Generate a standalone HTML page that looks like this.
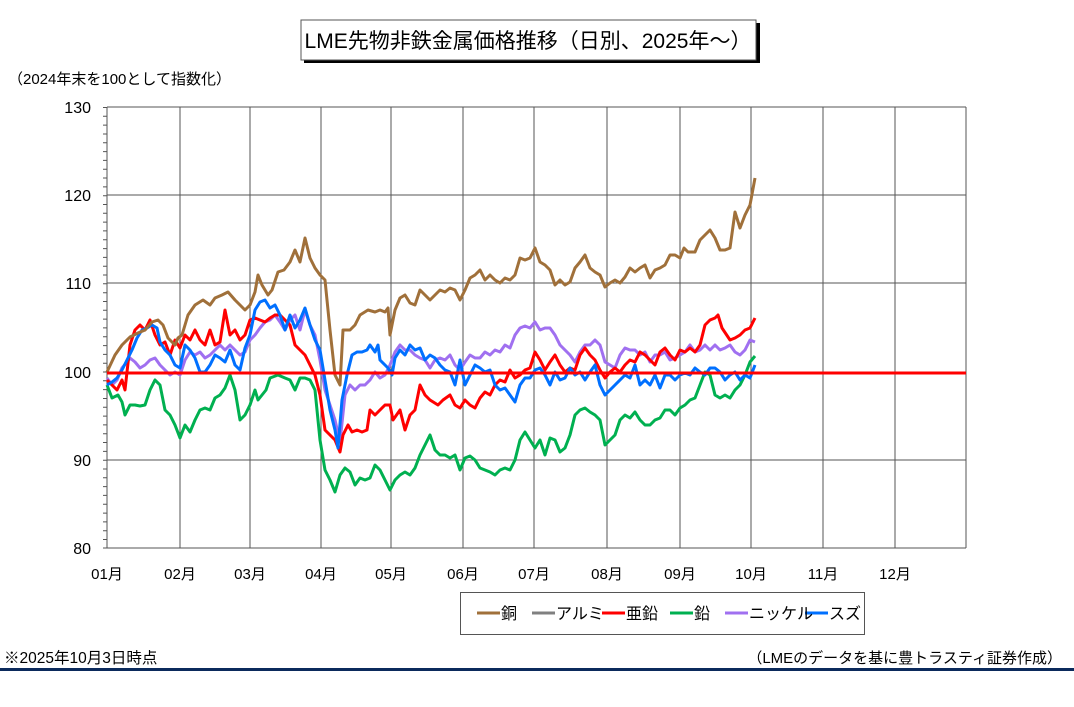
<!DOCTYPE html>
<html><head><meta charset="utf-8"><style>
html,body{margin:0;padding:0;background:#fff;}
svg{display:block;font-family:"Liberation Sans","Noto Sans CJK JP",sans-serif;}
</style></head><body>
<svg width="1074" height="707" viewBox="0 0 1074 707" xmlns="http://www.w3.org/2000/svg">
<rect width="1074" height="707" fill="#fff"/>
<rect x="304" y="23" width="456" height="40" fill="#000"/>
<rect x="301" y="20" width="455" height="40" fill="#fff" stroke="#555" stroke-width="1"/>
<text x="528" y="48" font-size="21" text-anchor="middle" fill="#000">LME先物非鉄金属価格推移（日別、2025年～）</text>
<text x="8" y="84" font-size="15" fill="#000">（2024年末を100として指数化）</text>
<g stroke="#555" stroke-width="1">
<line x1="107" y1="107" x2="966" y2="107"/>
<line x1="107" y1="195" x2="966" y2="195"/>
<line x1="107" y1="283" x2="966" y2="283"/>
<line x1="107" y1="460" x2="966" y2="460"/>
<line x1="107" y1="548" x2="966" y2="548"/>
<line x1="180" y1="107" x2="180" y2="548"/>
<line x1="250" y1="107" x2="250" y2="548"/>
<line x1="321" y1="107" x2="321" y2="548"/>
<line x1="391" y1="107" x2="391" y2="548"/>
<line x1="463" y1="107" x2="463" y2="548"/>
<line x1="534" y1="107" x2="534" y2="548"/>
<line x1="607" y1="107" x2="607" y2="548"/>
<line x1="680" y1="107" x2="680" y2="548"/>
<line x1="751" y1="107" x2="751" y2="548"/>
<line x1="823" y1="107" x2="823" y2="548"/>
<line x1="895" y1="107" x2="895" y2="548"/>
<line x1="966" y1="107" x2="966" y2="548"/>
<line x1="107" y1="107" x2="107" y2="548"/>
</g>
<g stroke="#555" stroke-width="1">
<path d="M103 107.5h4M103 116.3h4M103 125.1h4M103 134h4M103 142.8h4M103 151.6h4M103 160.4h4M103 169.2h4M103 178h4M103 186.9h4M103 195.7h4M103 204.5h4M103 213.3h4M103 222.1h4M103 230.9h4M103 239.8h4M103 248.6h4M103 257.4h4M103 266.2h4M103 275h4M103 283.8h4M103 292.7h4M103 301.5h4M103 310.3h4M103 319.1h4M103 327.9h4M103 336.7h4M103 345.6h4M103 354.4h4M103 363.2h4M103 372h4M103 380.8h4M103 389.6h4M103 398.5h4M103 407.3h4M103 416.1h4M103 424.9h4M103 433.7h4M103 442.5h4M103 451.4h4M103 460.2h4M103 469h4M103 477.8h4M103 486.6h4M103 495.4h4M103 504.3h4M103 513.1h4M103 521.9h4M103 530.7h4M103 539.5h4M103 548h4"/>
</g>
<g font-size="16" fill="#000" text-anchor="end">
<text x="91" y="113">130</text><text x="91" y="201">120</text><text x="91" y="289">110</text>
<text x="91" y="378">100</text><text x="91" y="466">90</text><text x="91" y="554">80</text>
</g>
<g font-size="15" fill="#000" text-anchor="middle">
<text x="107" y="579">01月</text><text x="180" y="579">02月</text><text x="250" y="579">03月</text>
<text x="321" y="579">04月</text><text x="391" y="579">05月</text><text x="463" y="579">06月</text>
<text x="534" y="579">07月</text><text x="607" y="579">08月</text><text x="680" y="579">09月</text>
<text x="751" y="579">10月</text><text x="823" y="579">11月</text><text x="895" y="579">12月</text>
</g>
<g fill="none" stroke-width="3" stroke-linejoin="round">
<polyline stroke="#00b050" points="107,385 112,398 118,395 122,402 125,415 130,405 135,405 140,406 145,405 150,390 155,380 160,385 165,410 170,415 175,425 180,438 185,425 190,432 195,420 200,410 205,408 210,410 215,398 220,395 225,388 230,375 235,390 240,420 245,415 250,405 255,390 258,400 262,395 266,390 270,378 278,375 285,378 290,380 295,390 300,378 305,378 310,380 315,390 320,440 325,470 330,480 335,492 340,475 345,468 350,472 355,485 360,478 365,480 370,478 375,465 380,470 385,480 390,490 395,480 400,475 405,472 410,475 415,468 420,455 425,445 430,435 435,450 440,455 445,455 450,458 455,455 460,470 465,458 470,456 475,460 480,468 485,470 490,472 495,475 500,470 505,468 510,470 515,460 520,440 525,432 530,440 535,448 540,440 545,455 550,438 555,440 560,452 565,448 570,435 575,415 580,410 585,408 590,412 595,415 600,420 605,445 610,440 615,435 620,420 625,415 630,418 635,412 640,420 645,425 650,425 655,420 660,418 665,410 670,410 675,415 680,408 685,405 690,400 695,398 700,385 705,372 710,375 715,395 720,398 725,395 730,398 735,390 740,385 745,375 750,362 755,356"/>
<polyline stroke="#a070f0" points="107,378 112,385 117,380 122,368 127,362 130,358 135,362 140,368 145,365 150,360 155,358 160,365 165,370 170,375 175,372 180,375 185,360 190,352 195,355 200,352 205,358 210,355 215,350 220,345 225,350 230,345 235,350 240,355 245,352 250,340 255,335 260,328 265,322 270,320 275,315 280,322 285,330 290,320 295,315 300,330 305,310 310,325 315,335 320,360 325,390 330,405 335,420 340,442 345,395 350,385 355,390 360,385 365,385 370,380 375,372 380,378 385,375 390,365 395,352 400,345 405,350 410,350 415,355 420,358 425,360 430,368 435,360 440,358 445,360 450,355 455,365 460,370 465,362 470,355 475,358 480,358 485,352 490,355 495,350 500,352 505,345 510,348 515,335 520,328 525,326 530,328 535,322 540,330 545,328 550,328 555,335 560,345 565,350 570,355 575,362 580,352 585,345 590,345 595,340 600,345 605,362 610,365 615,368 620,355 625,348 630,350 635,350 640,355 645,352 650,362 655,355 660,355 665,352 670,360 675,358 680,355 685,352 690,345 695,352 700,350 705,345 710,350 715,345 720,350 725,348 730,345 735,352 740,355 745,350 750,340 755,342"/>
<polyline stroke="#ff0000" points="107,380 112,385 117,390 122,380 125,390 130,345 135,330 140,325 145,330 150,320 155,335 160,345 165,342 170,355 175,340 180,348 185,335 190,340 195,330 200,340 205,345 210,330 215,345 220,342 225,310 230,335 235,330 240,340 245,335 250,320 255,318 260,320 265,322 270,318 275,315 280,315 285,320 290,325 295,345 300,350 305,355 310,365 315,375 320,395 325,430 330,435 335,440 340,452 343,435 348,425 352,432 357,430 362,432 367,430 370,410 375,415 380,410 385,405 390,405 393,420 400,410 405,430 410,415 415,410 420,385 425,395 430,400 438,405 443,400 450,395 455,405 460,408 465,400 470,405 475,408 480,398 485,392 490,395 495,385 500,380 505,382 510,370 515,378 520,375 525,370 530,368 535,352 540,360 545,370 550,362 555,355 560,365 565,372 570,368 575,370 580,355 585,348 590,355 595,360 600,370 605,378 610,372 615,368 620,372 625,365 630,360 635,362 640,352 645,355 650,360 655,365 660,352 665,348 670,355 675,360 680,350 685,352 690,348 695,352 700,345 705,325 710,320 715,318 718,315 722,328 730,340 735,338 740,335 745,330 750,328 755,318"/>
<polyline stroke="#0070ff" points="107,385 112,382 117,378 122,370 127,360 132,350 137,338 142,330 147,328 152,325 157,328 160,342 165,350 170,355 175,365 180,368 185,345 190,350 195,358 200,372 205,372 210,365 215,355 220,358 225,362 230,350 235,365 240,370 245,348 250,335 255,310 260,302 265,300 270,308 275,305 280,315 285,330 290,315 295,328 300,320 305,308 310,325 315,340 320,350 325,380 330,410 335,430 338,448 342,400 347,375 352,355 357,352 362,352 367,350 370,345 375,352 378,345 380,360 385,365 388,368 392,375 395,358 400,350 405,355 410,345 415,350 420,348 425,360 430,355 435,358 440,365 445,370 450,372 455,385 460,360 465,385 470,375 475,365 480,368 485,372 490,370 495,385 500,390 505,388 510,395 515,402 520,385 525,378 530,378 535,370 540,368 545,375 550,385 555,372 560,380 565,378 570,368 575,375 580,372 585,380 590,372 595,365 600,385 605,395 610,390 615,385 625,375 630,378 635,365 640,385 645,380 650,385 655,375 660,388 665,375 670,375 675,380 680,375 685,373 690,375 695,368 700,372 705,375 710,368 715,368 720,372 725,380 730,375 735,372 740,380 745,375 750,378 755,365"/>
<polyline stroke="#a0703a" points="107,372 115,355 122,345 130,337 138,333 145,330 152,322 158,320 163,325 168,338 175,345 178,338 182,335 188,315 195,305 203,300 210,305 215,298 222,295 228,292 235,300 240,305 245,310 250,305 255,292 258,275 262,285 268,295 272,290 278,272 284,270 290,262 295,250 300,262 305,238 310,258 315,268 320,275 325,280 330,330 335,375 340,385 343,330 350,330 355,325 360,315 368,310 375,312 380,310 385,312 388,308 390,335 395,310 400,298 405,295 410,303 415,305 420,290 425,295 430,300 440,290 445,292 450,288 455,290 460,300 465,290 470,278 475,275 480,270 485,280 490,275 495,280 500,283 505,278 510,280 515,275 520,258 525,260 530,258 535,248 540,262 545,265 550,270 555,285 560,280 565,285 570,282 575,268 580,262 585,255 590,268 595,272 600,275 605,287 610,283 615,280 620,283 625,277 630,268 635,272 640,268 645,265 650,278 655,270 660,268 665,265 670,255 675,255 680,258 684,248 688,252 695,252 700,240 705,235 710,230 715,238 720,250 725,250 730,248 735,212 740,228 745,215 750,205 755,178"/>
</g>
<line x1="107" y1="373" x2="966" y2="373" stroke="#ff0000" stroke-width="3"/>
<rect x="460.5" y="592.5" width="404" height="42" fill="#fff" stroke="#555"/>
<g stroke-width="3">
<line x1="477" y1="613" x2="500" y2="613" stroke="#a0703a"/>
<line x1="532" y1="613" x2="555" y2="613" stroke="#808080"/>
<line x1="602" y1="613" x2="625" y2="613" stroke="#ff0000"/>
<line x1="670" y1="613" x2="693" y2="613" stroke="#00b050"/>
<line x1="725" y1="613" x2="748" y2="613" stroke="#a070f0"/>
<line x1="805" y1="613" x2="828" y2="613" stroke="#0070ff"/>
</g>
<g font-size="16" fill="#000">
<text x="501" y="619">銅</text><text x="556" y="619">アルミ</text><text x="626" y="619">亜鉛</text>
<text x="694" y="619">鉛</text><text x="749" y="619">ニッケル</text><text x="829" y="619">スズ</text>
</g>
<text x="4" y="663" font-size="15.5" fill="#000">※2025年10月3日時点</text>
<text x="1062" y="663" font-size="15" fill="#000" text-anchor="end">（LMEのデータを基に豊トラスティ証券作成）</text>
<rect x="0" y="668" width="1074" height="3" fill="#0b2a5c"/>
</svg>
</body></html>
